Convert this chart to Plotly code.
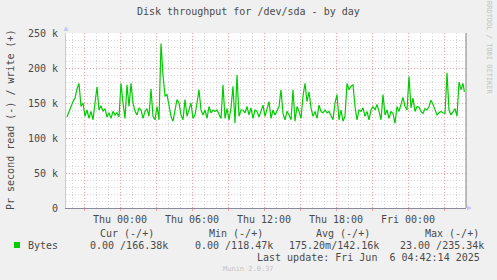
import pandas as pd
import plotly.graph_objects as go

# ---- data (k bytes/s, 10-minute samples from Wed Jun 4 19:35) ----
write_k = [
    130, 138, 145, 152, 157, 170, 178, 145, 150, 131,
    140, 128, 138, 126, 150, 173, 140, 146, 138, 142,
    130, 136, 128, 138, 133, 136, 130, 178, 150, 128,
    176, 145, 178, 150, 138, 133, 143, 140, 128, 138,
    142, 131, 170, 131, 126, 145, 126, 235, 190, 160,
    162, 145, 131, 124, 138, 155, 150, 133, 126, 155,
    131, 140, 150, 128, 133, 150, 169, 140, 133, 140,
    128, 145, 136, 140, 138, 140, 134, 128, 176, 128,
    142, 126, 143, 174, 121, 190, 131, 140, 140, 136,
    145, 133, 143, 128, 140, 138, 130, 138, 147, 131,
    143, 152, 128, 140, 133, 138, 145, 169, 135, 126,
    138, 133, 126, 169, 124, 145, 138, 128, 160, 178,
    152, 166, 143, 131, 138, 128, 147, 138, 136, 140,
    136, 138, 133, 126, 150, 162, 126, 140, 124, 131,
    178, 169, 174, 176, 145, 126, 140, 138, 143, 131,
    138, 126, 140, 145, 140, 148, 138, 126, 162, 133,
    140, 128, 138, 135, 121, 145, 138, 148, 158, 145,
    140, 188, 143, 157, 138, 145, 144, 138, 135, 142,
    140, 145, 154, 148, 140, 133, 136, 138, 136, 135,
    193, 140, 133, 138, 142, 131, 180, 169, 178, 166,
]
start_time = "2025-06-04 19:35"
last_time = "2025-06-06 04:42"

times = list(pd.date_range(start_time, periods=len(write_k) - 1, freq="10min")) + [pd.Timestamp(last_time)]
values = [v * 1000 for v in write_k]

y_ticks = [0, 50000, 100000, 150000, 200000, 250000]
y_labels = ["0", "50 k", "100 k", "150 k", "200 k", "250 k"]
x_ticks = pd.date_range("2025-06-04 21:00", "2025-06-06 03:00", freq="3h")
x_labels = [t.strftime("%a %H:%M") if t.hour % 6 == 0 else "" for t in x_ticks]

title = "Disk throughput for /dev/sda - by day"
ylabel = "Pr second read (-) / write (+)"
cols = ["Cur (-/+)", "Min (-/+)", "Avg (-/+)", "Max (-/+)"]
col_vals = ["0.00 /166.38k", "0.00 /118.47k", "175.20m/142.16k", "23.00 /235.34k"]
series_name = "Bytes"
last_update = "Last update: Fri Jun\u00a0\u00a06 04:42:14 2025"

# ---- layout geometry (pixels) ----
W, H = 497, 280
L, R, T, B = 66, 466, 33, 208
PW, PH = R - L, B - T
def px(x):
    return (x - L) / PW
def py(y):
    return (B - y) / PH

FONT = "DejaVu Sans Mono"
TXT = "#4a4a4a"
GREEN = "#00CC00"

fig = go.Figure()
fig.add_trace(go.Scatter(x=times, y=values, mode="lines",
                         line=dict(color=GREEN, width=1.2), showlegend=False,
                         hoverinfo="skip"))

fig.update_layout(
    width=W, height=H,
    margin=dict(l=L, r=W - R, t=T, b=H - B, pad=0),
    paper_bgcolor="#F0F0F0", plot_bgcolor="#FFFFFF",
    font=dict(family=FONT, size=10, color=TXT),
    showlegend=False,
)
fig.update_xaxes(
    range=["2025-06-04 19:30", "2025-06-06 04:50"],
    tickvals=list(x_ticks), ticktext=x_labels,
    showgrid=True, gridcolor="#F3A0A0", griddash="1px,2px", gridwidth=1,
    minor=dict(dtick=3600000, tick0="2025-06-04 20:00", showgrid=True,
               gridcolor="#D6D6D6", griddash="1px,2px", gridwidth=1),
    ticks="outside", ticklen=2, tickcolor="#F3A0A0",
    showline=True, linecolor="#8a8a9a", linewidth=1,
    zeroline=False, tickfont=dict(family=FONT, size=10, color=TXT),
)
fig.update_yaxes(
    range=[0, 250000],
    tickvals=y_ticks, ticktext=y_labels,
    showgrid=True, gridcolor="#F3A0A0", griddash="1px,2px", gridwidth=1,
    minor=dict(dtick=10000, showgrid=True, gridcolor="#D6D6D6",
               griddash="1px,2px", gridwidth=1),
    ticks="outside", ticklen=5, tickcolor="rgba(0,0,0,0)",
    showline=True, linecolor="#C4C8F4", linewidth=1,
    zeroline=False, tickfont=dict(family=FONT, size=10, color=TXT),
)

shapes = [
    # right frame line
    dict(type="line", xref="paper", yref="paper", x0=px(466), x1=px(466), y0=py(33), y1=py(208),
         line=dict(color="#808080", width=1)),
    # y axis arrow
    dict(type="path", xref="paper", yref="paper",
         path=f"M {px(63.5)},{py(31)} L {px(68.5)},{py(31)} L {px(66)},{py(26)} Z",
         fillcolor="#C4C8F4", line=dict(width=0)),
    # x axis arrow
    dict(type="path", xref="paper", yref="paper",
         path=f"M {px(467)},{py(205.5)} L {px(467)},{py(210.5)} L {px(472)},{py(208)} Z",
         fillcolor="#C4C8F4", line=dict(width=0)),
    # legend swatch
    dict(type="rect", xref="paper", yref="paper", x0=px(14), x1=px(20), y0=py(248), y1=py(242),
         fillcolor=GREEN, line=dict(width=0)),
]
fig.update_layout(shapes=shapes)

ann = []
def text(x, y, s, anchor="left", size=10, color=TXT, angle=0):
    ann.append(dict(xref="paper", yref="paper", x=px(x), y=py(y), text=s,
                    showarrow=False, xanchor=anchor, yanchor="middle",
                    textangle=angle, font=dict(family=FONT, size=size, color=color)))

text(248, 12, title, "center")
text(10, 120, ylabel, "center", angle=-90)
text(26, 245, series_name)
head_x = [98, 207, 314, 423]
val_x = [88, 193, 287, 398]
for hx, vx, h, v in zip(head_x, val_x, cols, col_vals):
    text(hx, 233, h)
    text(vx, 245, v)
text(482, 257, last_update, "right")
text(248, 269, "Munin 2.0.37", "center", size=7, color="#C4C4C4")
text(489, 48, "RRDTOOL / TOBI OETIKER", "center", size=7, color="#C4C4C4", angle=90)
fig.update_layout(annotations=ann)

fig.write_html("out.html")
